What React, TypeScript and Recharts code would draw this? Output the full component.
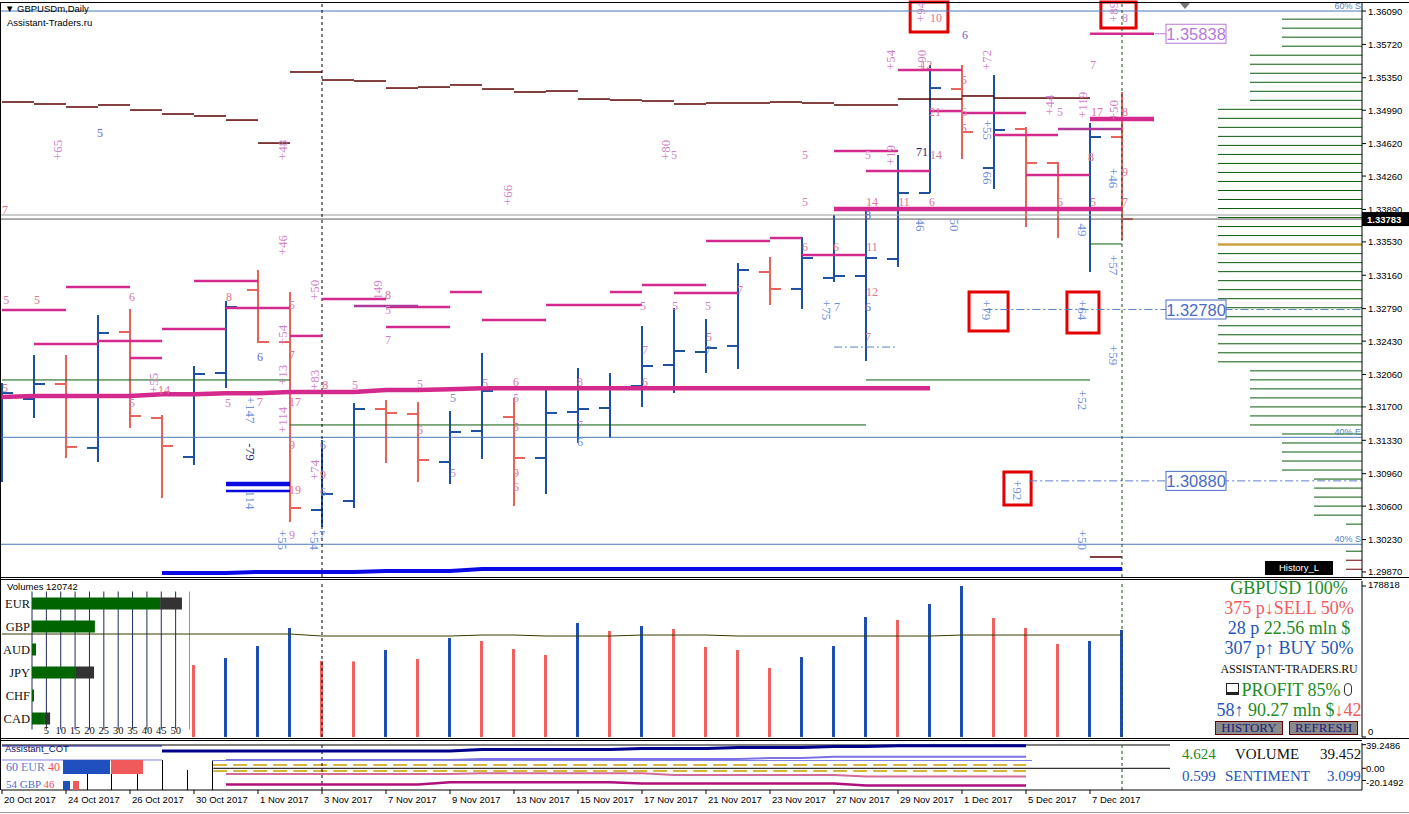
import React from "react";
import {
  ComposedChart,
  BarChart,
  Bar,
  Line,
  Scatter,
  XAxis,
  YAxis,
  ReferenceLine,
  ReferenceArea,
  CartesianGrid,
} from "recharts";

// GBPUSDm daily, 20 Oct – 8 Dec 2017, with the Assistant-Traders overlays.

const DATES = [
  "20 Oct 2017", "23 Oct 2017", "24 Oct 2017", "25 Oct 2017", "26 Oct 2017", "27 Oct 2017",
  "30 Oct 2017", "31 Oct 2017", "1 Nov 2017", "2 Nov 2017", "3 Nov 2017", "6 Nov 2017",
  "7 Nov 2017", "8 Nov 2017", "9 Nov 2017", "10 Nov 2017", "13 Nov 2017", "14 Nov 2017",
  "15 Nov 2017", "16 Nov 2017", "17 Nov 2017", "20 Nov 2017", "21 Nov 2017", "22 Nov 2017",
  "23 Nov 2017", "24 Nov 2017", "27 Nov 2017", "28 Nov 2017", "29 Nov 2017", "30 Nov 2017",
  "1 Dec 2017", "4 Dec 2017", "5 Dec 2017", "6 Dec 2017", "7 Dec 2017", "8 Dec 2017",
];
const OPEN = [1.31799, 1.31788, 1.31954, 1.31245, 1.32531, 1.31577, 1.31145, 1.32076, 1.32997, 1.3242, 1.30557, 1.30657, 1.31677, 1.31622, 1.31089, 1.31433, 1.31588, 1.31134, 1.31644, 1.31688, 1.31932, 1.32165, 1.32309, 1.32376, 1.33196, 1.33008, 1.3313, 1.33152, 1.3334, 1.34072, 1.35225, 1.34349, 1.34782, 1.34405, 1.33895, 1.34693];
const HIGH = [1.31965, 1.32276, 1.32276, 1.32719, 1.32786, 1.31611, 1.32154, 1.32875, 1.33218, 1.32974, 1.31333, 1.31744, 1.31777, 1.31755, 1.31655, 1.32298, 1.31799, 1.31888, 1.32132, 1.32076, 1.32597, 1.32797, 1.32675, 1.33296, 1.33362, 1.33584, 1.33828, 1.33884, 1.34493, 1.35491, 1.35491, 1.3538, 1.34804, 1.34416, 1.34848, 1.35192];
const LOW = [1.30868, 1.31577, 1.31134, 1.31089, 1.31466, 1.3069, 1.31056, 1.3191, 1.32409, 1.30424, 1.30369, 1.30579, 1.31078, 1.30868, 1.30845, 1.31123, 1.30602, 1.30735, 1.313, 1.31356, 1.31699, 1.31854, 1.32076, 1.32121, 1.3283, 1.32786, 1.33085, 1.32209, 1.33252, 1.34072, 1.34449, 1.34116, 1.33695, 1.33573, 1.33196, 1.33551];
const CLOSE = [1.31854, 1.31954, 1.31256, 1.3252, 1.31599, 1.31267, 1.32065, 1.32808, 1.3242, 1.30579, 1.30735, 1.31677, 1.31633, 1.31112, 1.31422, 1.31877, 1.31134, 1.31633, 1.31677, 1.31921, 1.32154, 1.3232, 1.32353, 1.33218, 1.33008, 1.33351, 1.33152, 1.33351, 1.34072, 1.35236, 1.34748, 1.34771, 1.34405, 1.33895, 1.34693, 1.33783];
const BID = 1.33783;
const ASK_LINE = 1.33828;

const VOLUME = [null, null, null, null, null, null, 85200, 93500, 107700, 129100, 90000, 89500, 103000, 92400, 117200, 113700, 104200, 97100, 135000, 125500, 131400, 127900, 106600, 103000, 81700, 94700, 107700, 142100, 138500, 157500, 178818, 140900, 129100, 110100, 113700, 126700];
const VOL_SIDE = ["", "", "", "", "", "", "r", "b", "b", "b", "r", "r", "b", "r", "b", "r", "r", "r", "b", "r", "b", "r", "r", "r", "r", "b", "b", "b", "r", "b", "b", "r", "r", "r", "b", "b"];
const VOL_AVG = [121950, 121950, 121950, 121950, 121950, 121950, 121950, 121950, 121950, 121950, 119580, 119580, 119580, 119580, 119580, 120770, 120770, 119580, 119580, 119580, 120770, 120770, 120770, 119580, 119580, 119580, 119580, 119580, 119580, 119580, 120770, 120770, 120770, 120770, 120770, 120770];

// thick pink level that creeps up, and the thick blue floor line
const TREND = [1.3181, 1.31821, 1.31821, 1.31821, 1.31821, 1.3184, 1.3184, 1.31851, 1.31851, 1.31866, 1.31866, 1.31866, 1.31888, 1.31888, 1.31896, 1.31907, 1.31907, 1.31907, 1.31907, 1.31907, 1.31907, 1.31907, 1.31907, 1.31907, 1.31907, 1.31907, 1.31907, 1.31907, 1.31907, 1.31907];
const FLOOR = [null, null, null, null, null, 1.29859, 1.29859, 1.29859, 1.2987, 1.2987, 1.2987, 1.2987, 1.29881, 1.29881, 1.29881, 1.29903, 1.29903, 1.29903, 1.29903, 1.29903, 1.29903, 1.29903, 1.29903, 1.29903, 1.29903, 1.29903, 1.29903, 1.29903, 1.29903, 1.29903, 1.29903, 1.29903, 1.29903, 1.29903, 1.29903, 1.29903];

// maroon step: one level per bar, from that bar to the next
const MAROON = [1.35081, 1.35059, 1.35026, 1.35048, 1.34992, 1.34948, 1.34926, 1.34881, 1.34626, 1.35414, 1.35325, 1.35314, 1.35236, 1.35247, 1.3527, 1.35225, 1.35192, 1.35203, 1.35114, 1.35103, 1.35092, 1.35059, 1.3507, 1.3507, 1.35081, 1.3507, 1.35048, 1.35048, 1.35114, 1.35114, 1.35148, 1.35125, 1.35125, 1.35125, 1.30036];

// [from bar, to bar, price]
const PINK_LEVELS = [
  [0, 2, 1.32775], [2, 4, 1.3303], [1, 3, 1.32398], [3, 5, 1.32431], [4, 5, 1.32242], [5, 7, 1.32564],
  [6, 8, 1.33096], [7, 9, 1.32797], [9, 10, 1.32487], [10, 12, 1.32897], [12, 14, 1.32808], [12, 14, 1.32586],
  [14, 15, 1.32974], [15, 17, 1.32664], [17, 20, 1.3283], [19, 20, 1.32974], [20, 22, 1.33052], [21, 23, 1.32963],
  [22, 24, 1.3354], [24, 25, 1.33573], [25, 27, 1.33385], [27, 29, 1.34316], [26, 28, 1.34538], [28, 30, 1.35436],
  [29, 30, 1.34981], [30, 32, 1.34959], [31, 33, 1.34715], [32, 34, 1.34272], [34, 36, 1.35838],
];
const PINK_STRONG = [[26, 35, 1.33895], [34, 36, 1.34893]];
const PURPLE_LEVELS = [[11, 13, 1.32819], [33, 35, 1.34782]];
const GREEN_LEVELS = [[0, 9, 1.31999], [9, 27, 1.315], [27, 34, 1.31999], [34, 35, 1.33507]];
const STOP_THICK = [[7, 9, 1.30846]];
const STOP_THIN = [[7, 9, 1.30768]];
const DASH_LEVELS = [[26, 28, 1.32364], [30.7, 42.5, 1.3278], [32.1, 42.5, 1.3088]];
const ZONES = [1.3609, 1.31363, 1.30177];
const ZONE_NAMES = ["60% S", "40% E", "40% S"];
// [bar from, bar to, price top, price bottom]
const BOXES = [
  [28.38, 29.56, 1.3619, 1.35857], [34.34, 35.44, 1.3619, 1.35902], [30.22, 31.44, 1.32974, 1.32542],
  [33.28, 34.28, 1.32974, 1.3252], [31.31, 32.16, 1.30978, 1.30613],
];
const TAG_PRICES = [1.35838, 1.3278, 1.3088];

// volume-at-price ladder on the right edge
const PROFILE_PRICES = [
  1.36, 1.359, 1.358, 1.357, 1.356, 1.355, 1.354, 1.353, 1.352, 1.351, 1.35, 1.349, 1.348, 1.347, 1.346, 1.345,
  1.344, 1.343, 1.342, 1.341, 1.34, 1.339, 1.338, 1.337, 1.336, 1.335, 1.334, 1.333, 1.332, 1.331, 1.33, 1.329,
  1.328, 1.327, 1.326, 1.325, 1.324, 1.323, 1.322, 1.321, 1.32, 1.319, 1.318, 1.317, 1.316, 1.315, 1.314, 1.313,
  1.312, 1.311, 1.31, 1.309, 1.308, 1.307, 1.306, 1.305, 1.304, 1.303, 1.302, 1.301, 1.3, 1.299,
];
const PROFILE_HITS = [
  5, 5, 5, 5, 7, 7, 7, 7, 7, 7, 9, 9, 9, 9, 9, 9, 9, 9, 9, 9, 9, 9, 9, 9, 9, 9, 9, 9, 9, 9, 9, 9,
  9, 9, 9, 9, 9, 9, 9, 7, 7, 7, 7, 7, 7, 7, 5, 5, 5, 5, 5, 3, 3, 3, 3, 3, 1, 0, 0, 1, 1, 1,
];
const PROFILE_POC = 1.335;
const PROFILE_OLD = [1.3, 1.299];

const PRICE_TICKS = [1.3609, 1.3572, 1.3535, 1.3499, 1.3462, 1.3426, 1.3389, 1.3353, 1.3316, 1.3279, 1.3243, 1.3206, 1.317, 1.3133, 1.3096, 1.306, 1.3023, 1.2987];

// [bar, price, text, tone, rotation]
const NOTES = [
  [3.06, 1.34737, "5", "v", 0], [0.09, 1.33884, "7", "p", 0], [30.09, 1.35824, "6", "v", 0],
  [29.19, 1.36012, "10", "p", 0], [35.09, 1.36012, "8", "m", 0], [21.0, 1.34493, "5", "m", 0],
  [25.09, 1.34493, "5", "m", 0], [27.06, 1.34493, "5", "m", 0], [29.19, 1.34493, "14", "p", 0],
  [28.88, 1.35491, "12", "p", 0], [30.06, 1.35325, "5", "p", 0], [29.16, 1.3497, "21", "p", 0],
  [30.06, 1.3497, "6", "p", 0], [30.06, 1.34793, "5", "p", 0], [28.75, 1.34527, "71", "d", 0],
  [34.09, 1.35491, "7", "m", 0], [33.06, 1.3497, "5", "m", 0], [34.22, 1.3497, "17", "p", 0],
  [35.09, 1.3497, "8", "p", 0], [34.03, 1.34471, "8", "p", 0], [35.09, 1.34305, "9", "p", 0],
  [25.09, 1.33972, "5", "m", 0], [27.19, 1.33972, "14", "p", 0], [28.19, 1.33972, "11", "p", 0],
  [29.06, 1.33972, "6", "p", 0], [33.06, 1.33972, "6", "p", 0], [34.09, 1.33972, "5", "p", 0],
  [35.09, 1.33972, "7", "p", 0], [27.06, 1.33828, "8", "v", 0], [25.09, 1.33473, "6", "p", 0],
  [26.06, 1.33473, "6", "p", 0], [27.19, 1.33473, "11", "p", 0], [27.19, 1.32974, "12", "p", 0],
  [27.06, 1.32808, "6", "v", 0], [27.06, 1.32475, "7", "p", 0], [26.09, 1.32808, "7", "b", 0],
  [23.06, 1.32997, "7", "p", 0], [20.03, 1.32819, "5", "m", 0], [21.03, 1.32819, "5", "m", 0],
  [22.06, 1.32819, "5", "m", 0], [22.09, 1.32475, "5", "p", 0], [22.06, 1.32331, "7", "b", 0],
  [20.09, 1.32331, "7", "m", 0], [20.09, 1.31976, "6", "p", 0], [18.06, 1.31976, "8", "m", 0],
  [18.06, 1.315, "7", "m", 0], [18.06, 1.31311, "6", "b", 0], [16.06, 1.31976, "6", "p", 0],
  [16.06, 1.31799, "5", "m", 0], [16.06, 1.31477, "5", "p", 0], [16.06, 1.30967, "9", "p", 0],
  [16.06, 1.30812, "6", "p", 0], [15.09, 1.31965, "5", "m", 0], [14.09, 1.31799, "5", "b", 0],
  [14.09, 1.30967, "5", "m", 0], [13.06, 1.31954, "5", "m", 0], [13.06, 1.31444, "6", "p", 0],
  [11.03, 1.31943, "5", "m", 0], [12.06, 1.32941, "8", "p", 0], [12.06, 1.32775, "5", "m", 0],
  [12.06, 1.32442, "7", "m", 0], [0.13, 1.32886, "5", "p", 0], [1.09, 1.32886, "5", "p", 0],
  [4.06, 1.32919, "6", "p", 0], [7.09, 1.32919, "8", "p", 0], [0.09, 1.3191, "5", "p", 0],
  [4.06, 1.31744, "5", "m", 0], [5.06, 1.31888, "14", "p", 0], [7.06, 1.31744, "5", "m", 0],
  [8.06, 1.32254, "6", "v", 0], [8.06, 1.31755, "7", "p", 0], [9.06, 1.32276, "7", "p", 0],
  [9.06, 1.3283, "5", "m", 0], [9.16, 1.31755, "17", "p", 0], [9.06, 1.31278, "9", "p", 0],
  [9.16, 1.30779, "19", "p", 0], [9.06, 1.3028, "9", "m", 0], [10.0, 1.3028, "7", "b", 0],
  [10.03, 1.31278, "6", "b", 0], [10.03, 1.30945, "9", "p", 0], [10.03, 1.30757, "6", "b", 0],
  [10.1, 1.31943, "8", "p", 0],
  [1.75, 1.34549, "+65", "m", -90], [8.78, 1.34549, "+48", "m", -90], [8.78, 1.33495, "+46", "m", -90],
  [9.78, 1.32997, "+50", "m", -90], [15.81, 1.3405, "+66", "m", -90], [20.75, 1.34549, "+80", "m", -90],
  [27.78, 1.35547, "+54", "m", -90], [28.75, 1.35547, "+90", "m", -90], [28.69, 1.36079, "+94", "m", -90],
  [30.78, 1.35547, "+72", "m", -90], [32.75, 1.35048, "+44", "m", -90], [33.78, 1.35048, "+119", "m", -90],
  [34.72, 1.34992, "+50", "m", -90], [34.72, 1.36079, "+89", "m", -90], [4.72, 1.31965, "+55", "m", -90],
  [8.78, 1.32498, "+54", "m", -90], [8.78, 1.32054, "+13", "m", -90], [8.78, 1.31555, "+114", "m", -90],
  [9.78, 1.31999, "+83", "m", -90], [9.78, 1.31001, "+74", "m", -90], [11.72, 1.32997, "149", "m", -90],
  [27.78, 1.34493, "+19", "m", -90],
  [30.81, 1.34771, "+55", "b", 90], [30.81, 1.34238, "66", "b", 90], [28.69, 1.33717, "46", "b", 90],
  [29.78, 1.33717, "50", "b", 90], [34.72, 1.34238, "+46", "b", 90], [33.78, 1.33662, "49", "b", 90],
  [34.72, 1.33274, "+57", "b", 90], [25.75, 1.32775, "+75", "b", 90], [30.78, 1.32775, "+79", "b", 90],
  [33.78, 1.32775, "+64", "b", 90], [34.72, 1.32276, "+59", "b", 90], [33.78, 1.31777, "+52", "b", 90],
  [31.72, 1.30779, "+92", "b", 90], [33.78, 1.30225, "+50", "b", 90], [8.78, 1.30225, "+55", "b", 90],
  [9.75, 1.30225, "+54", "b", 90], [7.75, 1.31666, "+147", "b", 90], [7.75, 1.312, "-79", "d", 90],
  [7.75, 1.30668, "114", "b", 90],
];

// currency strength panel (left of the volume window)
const CCY = ["EUR", "GBP", "AUD", "JPY", "CHF", "CAD"];
const CCY_LONG = [44.6, 21.9, 1.4, 15.3, 0.7, 4.5];
const CCY_SHORT = [7.6, 0, 0, 6.3, 0, 1.8];
const CCY_TICKS = [5, 10, 15, 20, 25, 30, 35, 40, 45, 50];

// Assistant_COT lines
const COT_NAVY = [null, null, null, null, null, 28.7, 28.7, 28.7, 28.7, 28.7, 28.7, 28.7, 28.7, 28.7, 28.7, 31.2, 31.2, 31.2, 31.2, 31.2, 32.9, 32.9, 32.9, 34.5, 34.5, 34.5, 36.2, 36.2, 37.5, 37.5, 37.5, 37.5, 37.5, null, null, null];
const COT_PURPLE = [null, null, null, null, null, null, null, 13.8, 13.8, 13.8, 13.8, 13.8, 13.8, 13.8, 13.8, 15.4, 15.4, 15.4, 15.4, 15.4, 15.4, 15.4, 15.4, 15.4, 17.1, 17.1, 19.3, 19.3, 19.3, 19.3, 19.3, 19.3, 19.3, null, null, null];
const COT_PINK = [null, null, null, null, null, null, null, -9.4, -9.4, -9.4, -9.4, -9.4, -9.4, -9.4, -9.4, -8.3, -8.3, -8.3, -8.3, -8.3, -8.3, -11.1, -11.1, -11.1, -11.1, -11.1, -11.1, -13.6, -13.6, -13.6, -13.6, -13.6, -13.6, null, null, null];
const COT_MAGENTA = [null, null, null, null, null, null, null, -26.9, -26.9, -26.9, -26.9, -26.9, -26.9, -26.9, -23.2, -23.2, -23.2, -23.2, -23.2, -23.2, -25.2, -25.2, -25.2, -25.2, -25.2, -25.2, -25.2, -28.5, -28.5, -28.5, -28.5, -28.5, -28.5, null, null, null];
const COT_TICKS = [39.2486, 0, -20.1492];
const DATE_TICKS = [0, 2, 4, 6, 8, 10, 12, 14, 16, 18, 20, 22, 24, 26, 28, 30, 32, 34];

const X_DOMAIN = [-0.03125, 42.5];
const PRICE_DOMAIN = [1.29814, 1.36179];

const BAR_UP = "#1f4f9f";
const BAR_DN = "#e8625c";
const PINK = "#d4298d";
const TONES = { m: "#cf85c9", p: "#e2748f", b: "#7090dc", v: "#6666cc", d: "#26267a" };
const SANS = "Liberation Sans, Arial, sans-serif";
const SERIF = "Liberation Serif, Times New Roman, serif";

const bars = DATES.map((d, i) => ({
  i,
  d,
  o: OPEN[i],
  h: HIGH[i],
  l: LOW[i],
  c: CLOSE[i],
  hl: [LOW[i], HIGH[i]],
  tr: TREND[i] ?? null,
  fl: FLOOR[i],
  v: VOLUME[i],
  vs: VOL_SIDE[i],
  va: VOL_AVG[i],
  nav: COT_NAVY[i],
  pur: COT_PURPLE[i],
  pnk: COT_PINK[i],
  mag: COT_MAGENTA[i],
}));
const notes = NOTES.map(([i, p, t, tone, r]) => ({ i, p, t, tone, r }));
const tags = TAG_PRICES.map((p, k) => ({ i: 36.375, p, t: p.toFixed(5), tone: k === 0 ? "v" : "b" }));
const zoneTags = ZONES.map((p, k) => ({ i: 42.5, p, t: ZONE_NAMES[k] }));
const ccyData = CCY.map((n, k) => ({ n, a: CCY_LONG[k], b: CCY_SHORT[k] }));

function OhlcShape(props: any) {
  const { x, y, width, height, payload } = props;
  if (!payload || payload.h == null) return <g />;
  const cx = Math.round(x + width / 2);
  const top = Math.min(y, y + height);
  const bot = Math.max(y, y + height);
  const span = payload.h - payload.l || 1;
  const yo = top + ((payload.h - payload.o) / span) * (bot - top);
  const yc = top + ((payload.h - payload.c) / span) * (bot - top);
  const col = payload.c >= payload.o ? BAR_UP : BAR_DN;
  return (
    <g stroke={col} strokeWidth={2}>
      <line x1={cx} x2={cx} y1={top} y2={bot} />
      <line x1={cx - 11} x2={cx} y1={yo} y2={yo} />
      <line x1={cx} x2={cx + 11} y1={yc} y2={yc} />
    </g>
  );
}

function VolShape(props: any) {
  const { x, y, width, height, payload } = props;
  if (!payload || payload.v == null) return <g />;
  const cx = x + width / 2;
  return <rect x={cx - 1.5} y={y} width={3} height={height} fill={payload.vs === "b" ? "#1c50b0" : "#f0605c"} />;
}

function NoteShape(props: any) {
  const { cx, cy, payload } = props;
  const r = payload.r;
  return (
    <text
      x={cx}
      y={cy}
      fill={TONES[payload.tone]}
      fontSize={r ? 13 : 12}
      fontFamily={SERIF}
      textAnchor="middle"
      dominantBaseline="central"
      transform={r ? `rotate(${r} ${cx} ${cy})` : undefined}
    >
      {payload.t}
    </text>
  );
}

function TagShape(props: any) {
  const { cx, cy, payload } = props;
  const col = payload.tone === "v" ? "#b878d8" : "#4a6cc4";
  return (
    <g>
      {payload.tone === "v" && <line x1={cx - 11} x2={cx} y1={cy} y2={cy} stroke={col} />}
      <rect x={cx} y={cy - 9.5} width={60} height={19} fill="#fff" stroke={col} />
      <text x={cx + 30} y={cy + 6} textAnchor="middle" fontSize={16.5} fontFamily={SANS} fill={col}>
        {payload.t}
      </text>
    </g>
  );
}

function ZoneTag(props: any) {
  const { cx, cy, payload } = props;
  return (
    <text x={cx - 1} y={cy - 2} textAnchor="end" fontSize={9} fontFamily={SANS} fill="#5a80c0">
      {payload.t}
    </text>
  );
}

function BidTag(props: any) {
  const { cx, cy } = props;
  return (
    <g>
      <rect x={cx} y={cy - 7} width={47} height={14} fill="#000" />
      <text x={cx + 5} y={cy + 3.5} fontSize={9.5} fontFamily={SANS} fill="#fff" fontWeight="bold">
        {BID.toFixed(5)}
      </text>
    </g>
  );
}

function PriceTick(props: any) {
  const { x, y, payload } = props;
  return (
    <g>
      <line x1={x} x2={x + 4} y1={y} y2={y} stroke="#000" />
      <text x={x + 6} y={y + 3.5} fontSize={9.5} fontFamily={SANS} fill="#000">
        {Number(payload.value).toFixed(5)}
      </text>
    </g>
  );
}

function VolTick(props: any) {
  const { x, y, payload } = props;
  const v = Number(payload.value);
  return (
    <g>
      <line x1={x} x2={x + 4} y1={y} y2={y} stroke="#000" />
      <text x={x + 6} y={y + (v === 0 ? -2 : 2)} fontSize={9.5} fontFamily={SANS} fill="#000">
        {String(v)}
      </text>
    </g>
  );
}

function CotTick(props: any) {
  const { x, y, payload } = props;
  const v = Number(payload.value);
  return (
    <g>
      <line x1={x} x2={x + 4} y1={y} y2={y} stroke="#000" />
      <text x={x + 4} y={y + (v < 0 ? 6 : 4)} fontSize={9.5} fontFamily={SANS} fill="#000">
        {v === 0 ? "0.00" : String(v)}
      </text>
    </g>
  );
}

function DateTick(props: any) {
  const { x, y, payload } = props;
  return (
    <g>
      <line x1={x} x2={x} y1={y} y2={y + 4} stroke="#000" />
      <text x={x + 2} y={y + 13} fontSize={9.5} fontFamily={SANS} fill="#000">
        {DATES[payload.value]}
      </text>
    </g>
  );
}

function CcyName(props: any) {
  const { y, payload } = props;
  return (
    <text x={30} y={y + 4.5} textAnchor="end" fontSize={12.5} fontFamily={SERIF} fill="#111">
      {payload.value}
    </text>
  );
}

function CcyScale(props: any) {
  const { x, payload } = props;
  return (
    <text x={x} y={153.5} textAnchor="middle" fontSize={10.5} fontFamily={SERIF} fill="#111">
      {payload.value}
    </text>
  );
}

const seg = (a: number, b: number, p: number) => [{ x: a, y: p }, { x: b, y: p }];

function PriceChart() {
  return (
    <ComposedChart width={1409} height={578} data={bars} margin={{ top: 3, right: 0, bottom: 1, left: 1 }}>
      <XAxis type="number" dataKey="i" domain={X_DOMAIN} hide />
      <YAxis
        orientation="right"
        width={47}
        domain={PRICE_DOMAIN}
        ticks={PRICE_TICKS}
        interval={0}
        tick={(p) => <PriceTick {...p} />}
        tickLine={false}
        tickSize={0}
        tickMargin={0}
        axisLine={{ stroke: "#000" }}
      />
      {ZONES.map((p, k) => (
        <ReferenceLine key={"z" + k} y={p} stroke="#4a78b8" />
      ))}
      <ReferenceLine y={ASK_LINE} stroke="#9a9a9a" />
      <ReferenceLine y={BID} stroke="#555" />
      {PROFILE_PRICES.map((p, k) =>
        PROFILE_HITS[k] > 0 ? (
          <ReferenceLine
            key={"pf" + k}
            segment={seg(42.5 - PROFILE_HITS[k] * 0.5, 42.5, p)}
            stroke={p === PROFILE_POC ? "#c8a040" : PROFILE_OLD.includes(p) ? "#6a0000" : "#0b5a0b"}
            strokeWidth={p === PROFILE_POC ? 2.5 : 1}
          />
        ) : null
      )}
      {GREEN_LEVELS.map(([a, b, p], k) => (
        <ReferenceLine key={"g" + k} segment={seg(a, b, p)} stroke="#0b5a0b" />
      ))}
      {MAROON.map((p, k) => (
        <ReferenceLine key={"mr" + k} segment={seg(k, k + 1, p)} stroke="#5c0000" strokeWidth={1.5} />
      ))}
      {DASH_LEVELS.map(([a, b, p], k) => (
        <ReferenceLine key={"dl" + k} segment={seg(a, b, p)} stroke="#5a80c8" strokeDasharray="8 3 2 3" />
      ))}
      <ReferenceLine x={10} stroke="#000" strokeDasharray="3 3" />
      <ReferenceLine x={35} stroke="#1d4a1d" strokeDasharray="3 3" />
      <Bar dataKey="hl" shape={(p) => <OhlcShape {...p} />} barSize={10} isAnimationActive={false} />
      {PINK_LEVELS.map(([a, b, p], k) => (
        <ReferenceLine key={"pk" + k} segment={seg(a, b, p)} stroke={PINK} strokeWidth={2.5} />
      ))}
      {PURPLE_LEVELS.map(([a, b, p], k) => (
        <ReferenceLine key={"pu" + k} segment={seg(a, b, p)} stroke="#b0389c" strokeWidth={2.5} />
      ))}
      {PINK_STRONG.map(([a, b, p], k) => (
        <ReferenceLine key={"ps" + k} segment={seg(a, b, p)} stroke={PINK} strokeWidth={4.5} />
      ))}
      {STOP_THICK.map(([a, b, p], k) => (
        <ReferenceLine key={"st" + k} segment={seg(a, b, p)} stroke="#0a0ae0" strokeWidth={4.5} />
      ))}
      {STOP_THIN.map(([a, b, p], k) => (
        <ReferenceLine key={"sn" + k} segment={seg(a, b, p)} stroke="#0a0ae0" strokeWidth={2.5} />
      ))}
      <Line dataKey="tr" stroke={PINK} strokeWidth={4.5} dot={false} isAnimationActive={false} />
      <Line dataKey="fl" stroke="#0a0ae6" strokeWidth={4} dot={false} isAnimationActive={false} />
      <Scatter data={notes} dataKey="p" shape={(p) => <NoteShape {...p} />} isAnimationActive={false} />
      {BOXES.map(([a, b, p1, p2], k) => (
        <ReferenceArea key={"bx" + k} x1={a} x2={b} y1={p1} y2={p2} fill="none" stroke="#e30000" strokeWidth={3} ifOverflow="visible" />
      ))}
      <Scatter data={tags} dataKey="p" shape={(p) => <TagShape {...p} />} isAnimationActive={false} />
      <Scatter data={zoneTags} dataKey="p" shape={(p) => <ZoneTag {...p} />} isAnimationActive={false} />
      <Scatter data={[{ i: 42.5, p: BID }]} dataKey="p" shape={(p) => <BidTag {...p} />} isAnimationActive={false} />
    </ComposedChart>
  );
}

function VolumeChart() {
  return (
    <ComposedChart width={1409} height={162} data={bars} margin={{ top: 3, right: 0, bottom: 3, left: 1 }}>
      <XAxis type="number" dataKey="i" domain={X_DOMAIN} hide />
      <YAxis
        orientation="right"
        width={47}
        domain={[0, 184740]}
        ticks={[178818, 0]}
        interval={0}
        tick={(p) => <VolTick {...p} />}
        tickLine={false}
        tickSize={0}
        tickMargin={0}
        axisLine={{ stroke: "#000" }}
      />
      <ReferenceLine x={10} stroke="#000" strokeDasharray="3 3" />
      <ReferenceLine x={35} stroke="#1d4a1d" strokeDasharray="3 3" />
      <Bar dataKey="v" shape={(p) => <VolShape {...p} />} barSize={3} isAnimationActive={false} />
      <Line dataKey="va" stroke="#3a3a00" strokeWidth={1} dot={false} isAnimationActive={false} />
    </ComposedChart>
  );
}

function CotChart() {
  return (
    <ComposedChart width={1409} height={74} data={bars} margin={{ top: 3, right: 0, bottom: 0, left: 1 }}>
      <XAxis
        type="number"
        dataKey="i"
        domain={X_DOMAIN}
        ticks={DATE_TICKS}
        interval={0}
        height={24}
        tick={(p) => <DateTick {...p} />}
        tickLine={false}
        tickSize={0}
        tickMargin={0}
        axisLine={{ stroke: "#000" }}
      />
      <YAxis
        orientation="right"
        width={47}
        domain={[-36, 42]}
        ticks={COT_TICKS}
        interval={0}
        tick={(p) => <CotTick {...p} />}
        tickLine={false}
        tickSize={0}
        tickMargin={0}
        axisLine={{ stroke: "#000" }}
      />
      <ReferenceLine segment={seg(0, 36.5, 38.7)} stroke="#000" />
      <ReferenceLine segment={seg(6.6, 36.5, 0)} stroke="#000" />
      <ReferenceLine segment={seg(6.6, 32, 5.5)} stroke="#c8a000" strokeWidth={1.5} strokeDasharray="14 6" />
      <ReferenceLine segment={seg(6.6, 32, -4.5)} stroke="#c8a000" strokeWidth={1.5} strokeDasharray="14 6" />
      <ReferenceLine segment={seg(0, 5, 37)} stroke="#1010a0" />
      <ReferenceLine segment={seg(0, 5, 13.8)} stroke="#8080e0" />
      <ReferenceLine x={10} stroke="#000" strokeDasharray="3 3" />
      <ReferenceLine x={35} stroke="#1d4a1d" strokeDasharray="3 3" />
      <Line dataKey="nav" stroke="#00008c" strokeWidth={3} dot={false} isAnimationActive={false} />
      <Line dataKey="pur" stroke="#7b72e6" strokeWidth={2} dot={false} isAnimationActive={false} />
      <Line dataKey="pnk" stroke="#d36a98" strokeWidth={2} dot={false} isAnimationActive={false} />
      <Line dataKey="mag" stroke="#b0107e" strokeWidth={2.5} dot={false} isAnimationActive={false} />
    </ComposedChart>
  );
}

function CurrencyChart() {
  return (
    <BarChart layout="vertical" width={190} height={160} data={ccyData} margin={{ top: 11.5, right: 0, bottom: 0.5, left: 0 }}>
      <CartesianGrid horizontal={false} stroke="#1c2c5c" />
      <XAxis type="number" domain={[0, 55]} ticks={CCY_TICKS} interval={0} height={10} axisLine={false} tickLine={false} tick={(p) => <CcyScale {...p} />} />
      <YAxis type="category" dataKey="n" width={32} axisLine={false} tickLine={false} tick={(p) => <CcyName {...p} />} />
      <Bar dataKey="a" stackId="s" fill="#006400" barSize={12} isAnimationActive={false} />
      <Bar dataKey="b" stackId="s" fill="#333333" barSize={12} isAnimationActive={false} />
    </BarChart>
  );
}

const abs = (left: number, top: number, extra: any = {}) => ({ position: "absolute" as const, left, top, ...extra });
const hline = (left: number, top: number, width: number, color = "#000") => (
  <div style={abs(left, top, { width, height: 1, background: color })} />
);
const vline = (left: number, top: number, height: number, color = "#000") => (
  <div style={abs(left, top, { width: 1, height, background: color })} />
);

export default function App() {
  const big = { fontFamily: SERIF, fontSize: 18, lineHeight: "20px", whiteSpace: "nowrap" as const };
  return (
    <div style={{ position: "absolute", left: 0, top: 0, width: 1409, height: 814, background: "#fff", overflow: "hidden", fontFamily: SANS }}>
      <div style={abs(0, 0)}>
        <PriceChart />
      </div>
      <div style={abs(0, 578)}>
        <VolumeChart />
      </div>
      <div style={abs(0, 740)}>
        <CotChart />
      </div>
      <div style={abs(0, 580)}>
        <CurrencyChart />
      </div>

      {/* window frame */}
      {hline(0, 2, 1409)}
      {hline(0, 577, 1409)}
      {hline(0, 579, 1362)}
      {hline(0, 738, 1409)}
      {hline(0, 740, 1362)}
      {vline(0, 2, 788)}
      {hline(0, 812, 1409, "#9a9a9a")}

      {/* main window captions */}
      <div style={abs(5, 3, { fontSize: 9.5, color: "#000", whiteSpace: "nowrap" })}>▼ GBPUSDm,Daily</div>
      <div style={abs(7, 17, { fontSize: 9.5, color: "#000", whiteSpace: "nowrap" })}>Assistant-Traders.ru</div>
      <div style={abs(1180, 3, { width: 0, height: 0, borderLeft: "5px solid transparent", borderRight: "5px solid transparent", borderTop: "6px solid #777" })} />
      <div style={abs(1265, 561, { width: 68, height: 14, background: "#000", color: "#fff", fontSize: 9.5, lineHeight: "14px", textAlign: "center" })}>History_L</div>

      {/* volume window captions */}
      <div style={abs(7, 581, { fontSize: 9.5, color: "#000", whiteSpace: "nowrap" })}>Volumes 120742</div>
      <div style={abs(1206, 578, { width: 166, textAlign: "center", ...big })}>
        <div style={{ color: "#1e8c1e" }}>GBPUSD 100%</div>
        <div style={{ color: "#f25a5a" }}>375 p↓SELL 50%</div>
        <div>
          <span style={{ color: "#2455b8" }}>28 p </span>
          <span style={{ color: "#1e8c1e" }}> 22.56 mln $</span>
        </div>
        <div style={{ color: "#2455b8" }}>307 p↑ BUY 50%</div>
        <div style={{ color: "#111", fontSize: 12, lineHeight: "22px", letterSpacing: -0.2 }}>ASSISTANT-TRADERS.RU</div>
        <div style={{ color: "#1e8c1e" }}>
          <span style={{ display: "inline-block", width: 11, height: 8, border: "1.5px solid #222", borderBottomWidth: 3, marginRight: 2, verticalAlign: "1px" }} />
          PROFIT 85%
          <span style={{ display: "inline-block", width: 6, height: 11, border: "1px solid #333", borderRadius: 4, marginLeft: 3, verticalAlign: "0px" }} />
        </div>
        <div>
          <span style={{ color: "#2455b8" }}>58↑ </span>
          <span style={{ color: "#1e8c1e" }}>90.27 mln $</span>
          <span style={{ color: "#f25a5a" }}>↓42</span>
        </div>
      </div>
      <div style={abs(1215, 721, { width: 66, height: 12, background: "#8a8a8a", border: "1px solid #6a0000", color: "#1a1a7a", fontFamily: SERIF, fontSize: 13, lineHeight: "12px", textAlign: "center" })}>HISTORY</div>
      <div style={abs(1289, 721, { width: 67, height: 12, background: "#8a8a8a", border: "1px solid #6a0000", color: "#1a1a7a", fontFamily: SERIF, fontSize: 13, lineHeight: "12px", textAlign: "center" })}>REFRESH</div>

      {/* COT window captions */}
      <div style={abs(5, 743, { fontSize: 9.5, color: "#101060", whiteSpace: "nowrap" })}>Assistant_COT</div>
      <div style={abs(6, 760, { fontFamily: SERIF, fontSize: 12, whiteSpace: "nowrap" })}>
        <span style={{ color: "#4a6cd0" }}>60 </span>
        <span style={{ color: "#6a86c8" }}>EUR </span>
        <span style={{ color: "#f05050" }}>40</span>
      </div>
      <div style={abs(63, 760, { width: 47, height: 14, background: "#2050c0" })} />
      <div style={abs(111, 760, { width: 32, height: 14, background: "#f05a5a" })} />
      <div style={abs(6, 778, { fontFamily: SERIF, fontSize: 11, lineHeight: "12px", whiteSpace: "nowrap" })}>
        <span style={{ color: "#4a6cd0" }}>54 GBP </span>
        <span style={{ color: "#f05050" }}>46</span>
      </div>
      <div style={abs(63, 781, { width: 7, height: 9, background: "#2050c0" })} />
      <div style={abs(73, 781, { width: 6, height: 9, background: "#f05a5a" })} />
      {vline(87, 774, 16)}
      {vline(111, 774, 16)}
      {vline(137, 774, 16)}
      {vline(162, 760, 30)}
      {vline(187, 770, 20)}
      {vline(212, 760, 30)}
      {hline(212, 760, 820, "#8080e0")}
      <div style={abs(1182, 746, { fontFamily: SERIF, fontSize: 15, color: "#1e8c1e" })}>4.624</div>
      <div style={abs(1235, 746, { fontFamily: SERIF, fontSize: 15, color: "#111" })}>VOLUME</div>
      <div style={abs(1320, 746, { fontFamily: SERIF, fontSize: 15, color: "#111" })}>39.452</div>
      <div style={abs(1182, 768, { fontFamily: SERIF, fontSize: 15, color: "#2455b8" })}>0.599</div>
      <div style={abs(1225, 768, { fontFamily: SERIF, fontSize: 15, color: "#2455b8" })}>SENTIMENT</div>
      <div style={abs(1327, 768, { fontFamily: SERIF, fontSize: 15, color: "#2455b8" })}>3.099</div>
    </div>
  );
}
